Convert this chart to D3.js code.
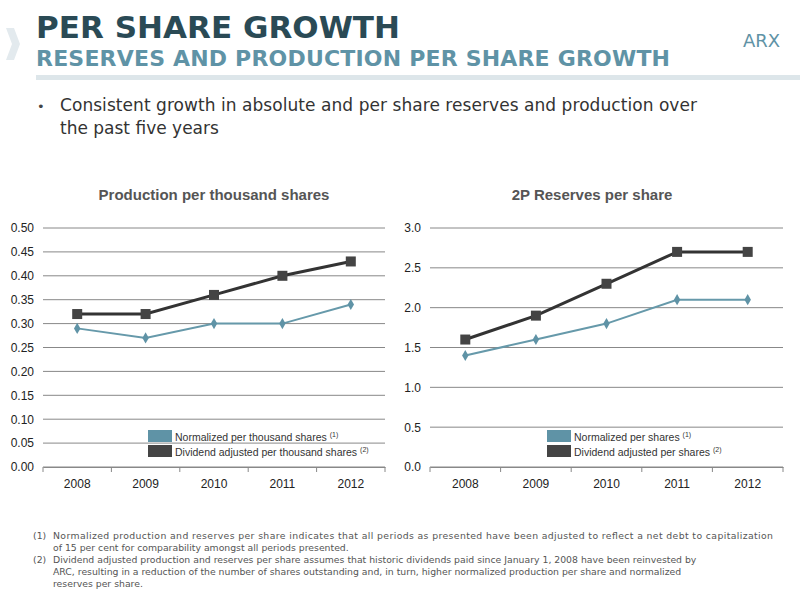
<!DOCTYPE html>
<html><head><meta charset="utf-8">
<script src="https://cdn.jsdelivr.net/npm/d3@7"></script>
<style>body{margin:0;background:#fff;font-family:"DejaVu Sans",sans-serif}</style>
</head><body><svg id="c" width="800" height="600"></svg>
<script>
const years = ["2008","2009","2010","2011","2012"];
const prodNormalized = [0.29,0.27,0.30,0.30,0.34];
const prodDividend = [0.32,0.32,0.36,0.40,0.43];
const resNormalized = [1.4,1.6,1.8,2.1,2.1];
const resDividend = [1.6,1.9,2.3,2.7,2.7];
const prodTicks = [0,0.05,0.10,0.15,0.20,0.25,0.30,0.35,0.40,0.45,0.50];
const resTicks = [0,0.5,1.0,1.5,2.0,2.5,3.0];

const svg = d3.select("#c");
svg.append("path").attr("d","M6,28 L14,28 L20,44 L14,60 L6,60 L12,44 Z").attr("fill","#e3eaee");
svg.append("text").attr("x",36).attr("y",38).attr("font-size",31).attr("font-weight","bold").attr("fill","#2a4a55").attr("textLength",364).text("PER SHARE GROWTH");
svg.append("text").attr("x",36).attr("y",66).attr("font-size",22).attr("font-weight","bold").attr("fill","#5f93a6").attr("textLength",634).text("RESERVES AND PRODUCTION PER SHARE GROWTH");
svg.append("text").attr("x",743).attr("y",47).attr("font-size",18).attr("fill","#5f93a6").text("ARX");
svg.append("rect").attr("x",36).attr("y",75).attr("width",764).attr("height",5).attr("fill","#dde6ea");
svg.append("text").attr("x",37).attr("y",111).attr("font-size",13).attr("fill","#444").text("•");
svg.append("text").attr("x",60).attr("y",111).attr("font-size",17).attr("fill","#333").attr("textLength",637).text("Consistent growth in absolute and per share reserves and production over");
svg.append("text").attr("x",60).attr("y",134).attr("font-size",17).attr("fill","#333").text("the past five years");

function chart(x0,x1,max,ticks,fmt,norm,div,title,titleX,legX,legLabels){
  const x = d3.scaleBand().domain(years).range([x0,x1]);
  const y = d3.scaleLinear().domain([0,max]).range([467,228]);
  const g = svg.append("g").attr("font-family","Liberation Sans, Arial, sans-serif");
  g.append("text").attr("x",titleX).attr("y",200).attr("text-anchor","middle").attr("font-size",15).attr("font-weight","bold").attr("fill","#555").text(title);
  ticks.forEach(t=>{
    g.append("line").attr("x1",x0).attr("x2",x1).attr("y1",y(t)).attr("y2",y(t)).attr("stroke","#888").attr("stroke-width",1);
  });
  const ya = g.append("g").attr("transform",`translate(${x0-6},0)`).call(d3.axisLeft(y).tickValues(ticks).tickFormat(fmt).tickSize(0));
  ya.select(".domain").remove();
  ya.selectAll("text").attr("font-size",12).attr("fill","#222").attr("font-family","Liberation Sans, Arial, sans-serif");
  const xa = g.append("g").attr("transform","translate(0,467)").call(d3.axisBottom(x).tickSize(0).tickPadding(12));
  xa.select(".domain").attr("stroke","#888");
  xa.selectAll("text").attr("font-size",12).attr("fill","#222").attr("font-family","Liberation Sans, Arial, sans-serif");
  years.concat(["end"]).forEach((yr,i)=>{
    const xx = x0 + i*x.step();
    g.append("line").attr("x1",xx).attr("x2",xx).attr("y1",467).attr("y2",472).attr("stroke","#888");
  });
  const line = d3.line().x((d,i)=>x(years[i])+x.bandwidth()/2).y(d=>y(d));
  g.append("path").datum(div).attr("d",line).attr("fill","none").attr("stroke","#333").attr("stroke-width",3);
  g.append("path").datum(norm).attr("d",line).attr("fill","none").attr("stroke","#6699aa").attr("stroke-width",2);
  div.forEach((d,i)=>g.append("rect").attr("x",x(years[i])+x.bandwidth()/2-5).attr("y",y(d)-5).attr("width",10).attr("height",10).attr("fill","#444"));
  norm.forEach((d,i)=>g.append("path").attr("d",d3.symbol(d3.symbolDiamond,36)()).attr("transform",`translate(${x(years[i])+x.bandwidth()/2},${y(d)})`).attr("fill","#5f93a6"));
  g.append("rect").attr("x",legX).attr("y",430).attr("width",24).attr("height",12).attr("fill","#5f93a6");
  g.append("rect").attr("x",legX).attr("y",445).attr("width",24).attr("height",12).attr("fill","#444");
  [0,1].forEach(k=>{
    const t = g.append("text").attr("x",legX+27).attr("y",441+k*15).attr("font-size",10.5).attr("fill","#333").text(legLabels[k]+" ");
    t.append("tspan").attr("font-size",7).attr("dy",-4).text(k?"(2)":"(1)");
  });
}
chart(43,385,0.5,prodTicks,d3.format(".2f"),prodNormalized,prodDividend,"Production per thousand shares",214,148,["Normalized per thousand shares","Dividend adjusted per thousand shares"]);
chart(430,783,3.0,resTicks,d3.format(".1f"),resNormalized,resDividend,"2P Reserves per share",592,547,["Normalized per shares","Dividend adjusted per shares"]);

const notes = [
 ["(1)","Normalized production and reserves per share indicates that all periods as presented have been adjusted to reflect a net debt to capitalization"],
 ["","of 15 per cent for comparability amongst all periods presented."],
 ["(2)","Dividend adjusted production and reserves per share assumes that historic dividends paid since January 1, 2008 have been reinvested by"],
 ["","ARC, resulting in a reduction of the number of shares outstanding and, in turn, higher normalized production per share and normalized"],
 ["","reserves per share."]];
notes.forEach((n,i)=>{
  if(n[0]) svg.append("text").attr("x",33).attr("y",539+i*12).attr("font-size",9.3).attr("fill","#555").text(n[0]);
  svg.append("text").attr("x",53).attr("y",539+i*12).attr("font-size",9.3).attr("fill","#555").attr("textLength", i==0?720:null).text(n[1]);
});
</script></body></html>
